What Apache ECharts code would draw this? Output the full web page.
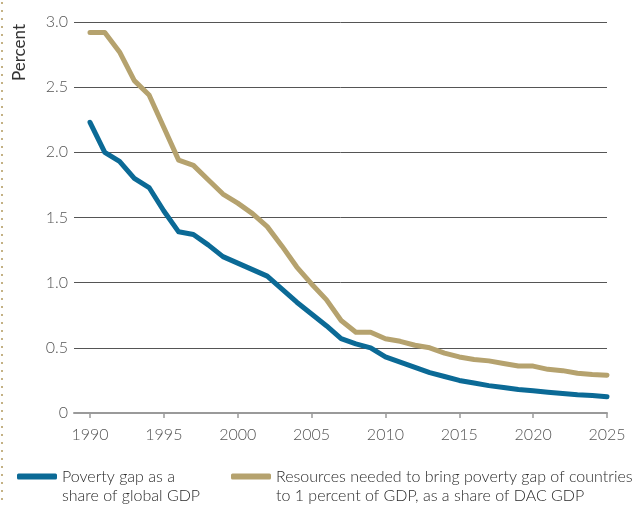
<!DOCTYPE html>
<html>
<head>
<meta charset="utf-8">
<script src="https://cdn.jsdelivr.net/npm/echarts@6/dist/echarts.min.js"></script>
<style>
html,body{margin:0;padding:0;background:#fff;}
#main{width:635px;height:505px;}
</style>
</head>
<body>
<div id="main"></div>
<script>
const years = [1990,1991,1992,1993,1994,1995,1996,1997,1998,1999,2000,2001,2002,2003,2004,2005,2006,2007,2008,2009,2010,2011,2012,2013,2014,2015,2016,2017,2018,2019,2020,2021,2022,2023,2024,2025];
const povertyGap = [2.23,2.00,1.93,1.80,1.73,1.55,1.39,1.37,1.29,1.20,1.15,1.10,1.05,0.95,0.85,0.76,0.67,0.57,0.53,0.50,0.43,0.39,0.35,0.31,0.28,0.25,0.23,0.21,0.195,0.18,0.17,0.16,0.15,0.14,0.135,0.125];
const resourcesNeeded = [2.92,2.92,2.77,2.55,2.44,2.19,1.94,1.90,1.79,1.68,1.61,1.53,1.43,1.28,1.12,0.99,0.87,0.71,0.62,0.62,0.57,0.55,0.52,0.50,0.46,0.43,0.41,0.40,0.38,0.36,0.36,0.335,0.325,0.305,0.295,0.29];
const xTickYears = [1990,1995,2000,2005,2010,2015,2020,2025];
const seriesNames = ['Poverty gap as a share of global GDP','Resources needed to bring poverty gap of countries to 1 percent of GDP, as a share of DAC GDP'];
const legendLines = {
  [seriesNames[0]]: ['Poverty gap as a','share of global GDP'],
  [seriesNames[1]]: ['Resources needed to bring poverty gap of countries','to 1 percent of GDP, as a share of DAC GDP']
};
const yAxisTitle = 'Percent';

const FONT = 'Lato';
const blue = '#0b6a96';
const gold = '#b5a26e';

const chart = echarts.init(document.getElementById('main'));
const legendCommon = {
  top: 443,
  padding: 5,
  icon: 'roundRect',
  itemWidth: 40,
  itemHeight: 6,
  itemGap: 5,
  selectedMode: false,
  formatter: n => '\n' + legendLines[n].join('\n'),
  textStyle: {fontFamily: FONT, fontWeight: 300, fontSize: 16, color: '#2a2a2a', lineHeight: 19}
};
chart.setOption({
  animation: false,
  grid: {left: 74, right: 28, top: 22, bottom: 92},
  graphic: [
    {type: 'line', shape: {x1: 2, y1: 2, x2: 2, y2: 505}, style: {stroke: '#c4b285', lineWidth: 2, lineDash: [2, 6]}},
    {type: 'text', x: 11, y: 81, rotation: Math.PI/2, style: {text: yAxisTitle, fontFamily: FONT, fontWeight: 400, fontSize: 17, fill: '#333', align: 'left', verticalAlign: 'top'}}
  ],
  legend: [
    Object.assign({}, legendCommon, {left: 12, data: [seriesNames[0]]}),
    Object.assign({}, legendCommon, {left: 226, data: [seriesNames[1]]})
  ],
  xAxis: {
    type: 'value', min: 1988.917, max: 2025,
    axisLine: {lineStyle: {color: '#9a9a9a', width: 2}},
    axisTick: {show: true, customValues: xTickYears, length: 5, lineStyle: {color: '#9a9a9a', width: 1.5}},
    axisLabel: {customValues: xTickYears, formatter: v => String(v), fontFamily: FONT, fontWeight: 300, fontSize: 16, color: '#555', margin: 14},
    splitLine: {show: false}
  },
  yAxis: {
    type: 'value', min: 0, max: 3, interval: 0.5,
    axisLine: {show: false}, axisTick: {show: false},
    axisLabel: {fontFamily: FONT, fontWeight: 300, fontSize: 16, color: '#555', margin: 6,
      formatter: v => v === 0 ? '0' : v.toFixed(1)},
    splitLine: {lineStyle: {color: '#555', width: 1}}
  },
  series: [
    {name: seriesNames[0], type: 'line', data: years.map((y,i)=>[y, povertyGap[i]]), showSymbol: false, symbol: 'none',
     lineStyle: {color: blue, width: 5, cap: 'round', join: 'round'}, itemStyle: {color: blue}, z: 3},
    {name: seriesNames[1], type: 'line', data: years.map((y,i)=>[y, resourcesNeeded[i]]), showSymbol: false, symbol: 'none',
     lineStyle: {color: gold, width: 5, cap: 'round', join: 'round'}, itemStyle: {color: gold}, z: 2}
  ]
});
</script>
</body>
</html>
